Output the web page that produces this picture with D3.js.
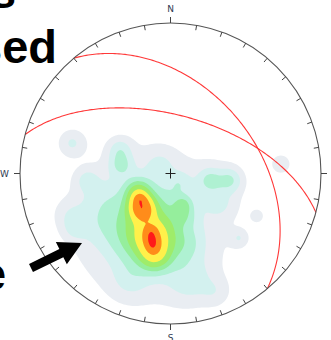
<!DOCTYPE html>
<html><head><meta charset="utf-8">
<script src="https://cdn.jsdelivr.net/npm/d3@7"></script>
<style>html,body{margin:0;padding:0;background:#fff;overflow:hidden}</style>
</head><body>
<svg id="c" width="331" height="340"></svg>
<script>
// ---- data ----
const densityLevels = [0.04, 0.1, 0.18, 0.3, 0.45, 0.7, 1.1, 1.75];
const levelColors = ['#e9edf2','#d3f1ef','#aff1d2','#95ee9c','#9fec6a','#fff04a','#ff8c1a','#ff1a1a'];
// pole clusters: x, y (equal-area, unit radius, north up), weight, spread
const poleX = [-0.216,-0.203,-0.196,-0.183,-0.130,-0.123,-0.116,-0.123,-0.103,-0.156,-0.136,-0.336,-0.329,0.083,0.090,0.262,0.395,-0.555,-0.635,-0.654,0.734,0.575,0.455,0.130,0.296,-0.468,0.329,0.063,0.096,-0.502,-0.269,-0.070,0.329,-0.668];
const poleY = [-0.123,-0.169,-0.209,-0.256,-0.389,-0.442,-0.488,-0.429,-0.542,-0.362,-0.342,0.156,0.056,-0.209,-0.282,-0.043,-0.043,-0.043,-0.362,0.203,0.063,-0.282,-0.429,-0.708,-0.787,-0.176,-0.209,-0.063,-0.475,-0.342,-0.708,0.056,-0.076,-0.276];
const poleW = [0.4,0.36,0.85,0.55,0.5,0.6,0.4,0.6,0.5,0.45,0.13,0.12,0.15,0.22,0.12,0.14,0.14,0.09,0.08,0.1,0.08,0.07,0.08,0.1,0.06,0.06,0.06,0.08,0.1,0.05,0.07,0.07,0.05,0.06];
const poleS = [0.053,0.024,0.053,0.053,0.030,0.030,0.027,0.080,0.066,0.146,0.330,0.053,0.053,0.040,0.047,0.053,0.053,0.053,0.053,0.060,0.047,0.030,0.040,0.10,0.066,0.10,0.066,0.053,0.08,0.093,0.08,0.066,0.10,0.066];
const planeStrikes = [320, 285];
const planeDips = [42, 58];
const cardinalLabels = ['N','E','S','W'];
const cardinalAz = [0, 90, 180, 270];
const tickAz = d3.range(0, 360, 10);

// ---- layout ----
const cx = 170.5, cy = 173.5, R = 150.5;
const svg = d3.select('#c');
const x = d3.scaleLinear().domain([-1, 1]).range([cx - R, cx + R]);
const y = d3.scaleLinear().domain([-1, 1]).range([cy + R, cy - R]);

function project(trend, plunge) {
  const t = trend * Math.PI / 180, p = plunge * Math.PI / 180;
  const rho = Math.SQRT2 * Math.sin((Math.PI / 2 - p) / 2);
  return [rho * Math.sin(t), rho * Math.cos(t)];
}

svg.append('clipPath').attr('id', 'clip').append('circle')
  .attr('cx', x(0)).attr('cy', y(0)).attr('r', x(1) - x(0));

// density grid
const n = 180, lo = -1.05, hi = 1.05, step = (hi - lo) / (n - 1);
const values = new Float64Array(n * n);
for (let j = 0; j < n; j++) {
  const gy = hi - j * step;
  for (let i = 0; i < n; i++) {
    const gx = lo + i * step;
    let v = 0;
    for (let k = 0; k < poleX.length; k++) {
      const dx = gx - poleX[k], dy = gy - poleY[k], s = poleS[k];
      v += poleW[k] * Math.exp(-(dx * dx + dy * dy) / (2 * s * s));
    }
    values[j * n + i] = v;
  }
}
const contours = d3.contours().size([n, n]).thresholds(densityLevels)(values);
const tf = d3.geoTransform({
  point: function (px, py) {
    this.stream.point(x(lo + (px - 0.5) * step), y(hi - (py - 0.5) * step));
  }
});
const gPath = d3.geoPath(tf);
const g = svg.append('g').attr('clip-path', 'url(#clip)');
g.selectAll('path').data(contours).join('path')
  .attr('d', gPath)
  .attr('fill', (d, i) => levelColors[i])
  .attr('stroke', 'none');

// great circles
const line = d3.line().x(d => x(d[0])).y(d => y(d[1]));
planeStrikes.forEach((s, idx) => {
  const d = planeDips[idx] * Math.PI / 180, sr = s * Math.PI / 180, dd = sr + Math.PI / 2;
  const sv = [Math.sin(sr), Math.cos(sr), 0];
  const dv = [Math.cos(d) * Math.sin(dd), Math.cos(d) * Math.cos(dd), Math.sin(d)];
  const pts = d3.range(0, 180.5, 1).map(r => {
    const a = r * Math.PI / 180;
    const v = [0, 1, 2].map(k => Math.cos(a) * sv[k] + Math.sin(a) * dv[k]);
    const pl = Math.asin(Math.max(-1, Math.min(1, v[2]))) * 180 / Math.PI;
    const tr = Math.atan2(v[0], v[1]) * 180 / Math.PI;
    return project(tr, pl);
  });
  svg.append('path').attr('d', line(pts)).attr('fill', 'none')
    .attr('stroke', '#ff3838').attr('stroke-width', 1.1);
});

// primitive circle
svg.append('circle').attr('cx', x(0)).attr('cy', y(0)).attr('r', x(1) - x(0))
  .attr('fill', 'none').attr('stroke', '#555').attr('stroke-width', 1.1);

// ticks
tickAz.forEach(az => {
  const t = az * Math.PI / 180;
  const card = az % 90 === 0;
  const r0 = card ? 1 : 1 - 5 / R, r1 = card ? 1 + 6 / R : 1;
  svg.append('line')
    .attr('x1', x(r0 * Math.sin(t))).attr('y1', y(r0 * Math.cos(t)))
    .attr('x2', x(r1 * Math.sin(t))).attr('y2', y(r1 * Math.cos(t)))
    .attr('stroke', '#444').attr('stroke-width', 1);
});
// cardinal labels
const labelOff = [[0, -5], [5, 3.5], [0, 11], [-5, 3.5]];
const anchors = ['middle', 'start', 'middle', 'end'];
cardinalLabels.forEach((lab, i) => {
  const t = cardinalAz[i] * Math.PI / 180;
  svg.append('text')
    .attr('x', x(1.04 * Math.sin(t)) + labelOff[i][0])
    .attr('y', y(1.04 * Math.cos(t)) + labelOff[i][1])
    .attr('text-anchor', anchors[i])
    .attr('font-family', 'DejaVu Sans, sans-serif').attr('font-size', 9)
    .attr('fill', '#2f3a52').text(lab);
});

// center cross
svg.append('path').attr('d', `M${x(0)-5},${y(0)}H${x(0)+5}M${x(0)},${y(0)-5}V${y(0)+5}`)
  .attr('stroke', '#222').attr('stroke-width', 1);

// arrow
(function () {
  const tail = [31, 268], tip = [82, 243];
  const dx = tip[0] - tail[0], dy = tip[1] - tail[1], L = Math.hypot(dx, dy);
  const ux = dx / L, uy = dy / L, nx = -uy, ny = ux;
  const hl = 23, hw = 12.5, sw = 4.5;
  const bx = tip[0] - ux * hl, by = tip[1] - uy * hl;
  const P = [
    [tail[0] + nx * sw, tail[1] + ny * sw], [bx + nx * sw, by + ny * sw], [bx + nx * hw, by + ny * hw],
    tip, [bx - nx * hw, by - ny * hw], [bx - nx * sw, by - ny * sw], [tail[0] - nx * sw, tail[1] - ny * sw]
  ];
  svg.append('path').attr('d', 'M' + P.map(p => p.join(',')).join('L') + 'Z').attr('fill', '#000');
})();

// cropped headline text
const tfont = 'Liberation Sans, Arial, sans-serif';
svg.append('text').attr('x', 16).attr('y', 7.5).attr('text-anchor', 'end')
  .attr('font-family', tfont).attr('font-weight', 'bold').attr('font-size', 46).text('s');
svg.append('text').attr('x', 57).attr('y', 63).attr('text-anchor', 'end')
  .attr('font-family', tfont).attr('font-weight', 'bold').attr('font-size', 47).text('sed');
svg.append('text').attr('x', 6).attr('y', 290).attr('text-anchor', 'end')
  .attr('font-family', tfont).attr('font-weight', 'bold').attr('font-size', 46).text('e');
</script>
</body></html>
